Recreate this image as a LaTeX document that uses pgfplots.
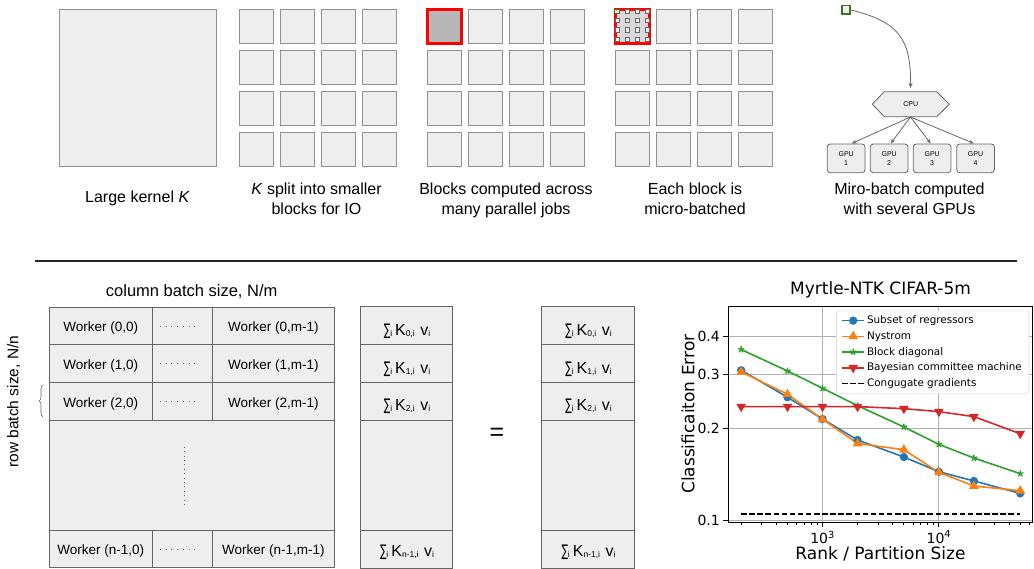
\documentclass[border=0pt]{standalone}
\usepackage{fontspec}
\setmainfont{Liberation Sans}
\newfontfamily\dejavu{DejaVu Sans}
\usepackage{graphicx}
\usepackage{pgfplots}
\usepackage{pgfplotstable}
\pgfplotsset{compat=1.18}
\usetikzlibrary{arrows.meta,decorations.pathreplacing}
\definecolor{bfill}{HTML}{EEEEEE}
\definecolor{bline}{HTML}{909090}
\definecolor{dline}{HTML}{666666}
\definecolor{selgray}{HTML}{B7B7B7}
\definecolor{microfill}{HTML}{D9D9D9}
\definecolor{gsq}{HTML}{38761D}
\definecolor{mplblue}{HTML}{1F77B4}
\definecolor{mplorange}{HTML}{FF7F0E}
\definecolor{mplgreen}{HTML}{2CA02C}
\definecolor{mplred}{HTML}{D62728}

\newcommand{\sbs}[1]{\raisebox{-0.8pt}{\fontsize{8.5}{9}\selectfont #1}}
\newcommand{\sumK}[1]{{\fontsize{16}{18}\selectfont\scalebox{0.6}[1]{\dejavu ∑}\sbs{i}\hspace{3pt}K\sbs{#1}\hspace{5.5pt}v\sbs{i}}}

\pgfplotstableread{
x      sor     nys     bd      bcm     cg
200    0.309   0.305   0.361   0.2349  0.1046
500    0.252   0.2578  0.3073  0.2349  0.1046
1000   0.214   0.2136  0.2697  0.2349  0.1046
2000   0.1827  0.178   0.2366  0.2349  0.1046
5000   0.1607  0.1698  0.2015  0.2313  0.1046
10000  0.1439  0.1432  0.1768  0.2262  0.1046
20000  0.1342  0.1292  0.1595  0.2178  0.1046
50000  0.1222  0.1247  0.1418  0.1916  0.1046
}\results

\begin{document}
\begin{tikzpicture}
\begin{scope}[x=1pt,y=-1pt]
\path[use as bounding box] (0,0) rectangle (1034,569);

% ---------- top row ----------
\draw[bline, fill=bfill, line width=1pt] (59,9.3) rectangle (216,166.7);
\node[anchor=base, font=\fontsize{16}{19}\selectfont] at (137.5,202.7) {Large kernel \textit{K}};

\foreach \gx in {239,427,615}{
  \foreach \i in {0,...,3}{
    \foreach \j in {0,...,3}{
      \draw[bline, fill=bfill, line width=1pt] ({\gx+41*\i},{9.3+41*\j}) rectangle ++(34,34);
    }
  }
}
% selected block (grid 3)
\draw[red, line width=3pt, fill=selgray] (427,9.3) rectangle ++(34,34);
% micro-batched block (grid 4)
\draw[red, line width=3pt, fill=microfill] (615,9.3) rectangle ++(34,34);
\foreach \i in {0,...,3}{
  \foreach \j in {0,...,3}{
    \draw[dline, fill=bfill, line width=0.8pt] ({617+10*\i-2.1},{11.3+9.3*\j-2.1}) rectangle ++(4.2,4.2);
  }
}
\draw[gsq, fill=bfill, line width=1.1pt] (614.9,9.2) rectangle ++(4.2,4.2);

\begin{scope}[every node/.style={anchor=base, font=\fontsize{16}{19}\selectfont}]
\node at (316.5,195) {\textit{K} split into smaller};
\node at (316.5,215) {blocks for IO};
\node at (506,195) {Blocks computed across};
\node at (506,215) {many parallel jobs};
\node at (695,195) {Each block is};
\node at (695,215) {micro-batched};
\node at (909.5,195) {Miro-batch computed};
\node at (909.5,215) {with several GPUs};
\end{scope}

% GPU diagram
\draw[gsq, fill=bfill, line width=1.5pt] (842,5.5) rectangle (850,14);
\draw[dline, line width=0.8pt, -{Stealth[length=5pt,width=4pt]}] (851,10) .. controls (900,22) and (911,40) .. (910.5,88);
\draw[dline, fill=bfill, line width=0.8pt] (872.3,104.2) -- (884.3,91.7) -- (936.7,91.7) -- (949.3,104.2) -- (936.7,116.7) -- (884.3,116.7) -- cycle;
\node[font=\fontsize{7}{8}\selectfont] at (910.7,104.2) {CPU};
\foreach \k/\gx/\tx in {1/827.3/851.7, 2/870.3/890.7, 3/913.3/930.7, 4/956.7/974}{
  \draw[dline, fill=bfill, line width=0.8pt, rounded corners=3pt] (\gx,144) rectangle ++(37.7,28.7);
  \node[font=\fontsize{7}{8}\selectfont] at ({\gx+18.85},154.3) {GPU};
  \node[font=\fontsize{7}{8}\selectfont] at ({\gx+18.85},163) {\k};
  \draw[dline, line width=0.8pt, -{Stealth[length=5pt,width=4pt]}] (910.5,117) -- (\tx,143.5);
}

% separator
\draw[black!85, line width=1.3pt] (35,261) -- (1017,261);

% ---------- bottom left: worker grid ----------
\node[anchor=base, font=\fontsize{16.5}{19}\selectfont] at (191.7,296.7) {column batch size, N/m};
\node[rotate=90, anchor=base, font=\fontsize{15.5}{19}\selectfont] at (18.3,401.7) {row batch size, N/n};
\draw[dline, line width=0.6pt, decorate, decoration={brace, amplitude=4pt}] (43,417) -- (43,385);

\draw[dline, fill=bfill, line width=1pt] (49,307.3) rectangle (334.3,567.7);
\foreach \yy in {345,382.7,420.7,530.7}{\draw[dline, line width=1pt] (49,\yy) -- (334.3,\yy);}
\foreach \xx in {152.3,212.3}{
  \draw[dline, line width=1pt] (\xx,307.3) -- (\xx,420.7);
  \draw[dline, line width=1pt] (\xx,530.7) -- (\xx,567.7);
}
\begin{scope}[every node/.style={anchor=base, font=\fontsize{13.5}{15}\selectfont}]
\node at (100.7,331.5) {Worker (0,0)};
\node at (273.3,331.5) {Worker (0,m-1)};
\node at (100.7,369.1) {Worker (1,0)};
\node at (273.3,369.1) {Worker (1,m-1)};
\node at (100.7,407.0) {Worker (2,0)};
\node at (273.3,407.0) {Worker (2,m-1)};
\node at (100.7,554.4) {Worker (n-1,0)};
\node at (273.3,554.4) {Worker (n-1,m-1)};
\end{scope}
\foreach \yy in {326.2,363.8,401.7,549.2}{
  \draw[dline, line width=0.9pt, dash pattern=on 0.8pt off 4.9pt] (160,\yy) -- (196,\yy);
}
\draw[dline, line width=0.9pt, dash pattern=on 0.8pt off 3.6pt] (184.3,446.7) -- (184.3,504);

% ---------- bottom middle: vectors ----------
\foreach \vx in {360,541.7}{
  \draw[dline, fill=bfill, line width=1pt] (\vx,306.7) rectangle ++(92.7,261.6);
  \foreach \yy in {344.3,382.3,420,530}{\draw[dline, line width=1pt] (\vx,\yy) -- ++(92.7,0);}
}
\begin{scope}[every node/.style={anchor=base, inner sep=0pt}]
\foreach \cx in {407,588.5}{
  \node at (\cx,336.0) {\sumK{0,i}};
  \node at (\cx,373.3) {\sumK{1,i}};
  \node at (\cx,410.7) {\sumK{2,i}};
  \node at (\cx,556.7) {\sumK{n-1,i}};
}
\end{scope}
\node[font=\fontsize{25}{28}\selectfont] at (496.9,434) {=};
\end{scope}

% ---------- chart ----------
\begin{axis}[
  at={(728.3pt,-522.3pt)}, anchor=south west,
  scale only axis, width=304.4pt, height=216.3pt,
  xmode=log, ymode=log,
  xmin=155, xmax=64000, ymin=0.0983, ymax=0.501,
  xtick={1000,10000}, xticklabels={10\textsuperscript{3},10\textsuperscript{4}},
  minor xtick={200,300,400,500,600,700,800,900,2000,3000,4000,5000,6000,7000,8000,9000,20000,30000,40000,50000,60000},
  ytick={0.1,0.2,0.3,0.4}, yticklabels={0.1,0.2,0.3,0.4},
  minor ytick={},
  tick pos=left, tick align=outside,
  major tick length=5pt, minor tick length=3pt,
  tick style={black, line width=0.8pt},
  grid=major, major grid style={black!30, line width=0.8pt},
  axis line style={black, line width=0.8pt},
  tick label style={font=\dejavu\fontsize{14}{16}\selectfont},
  title={Myrtle-NTK CIFAR-5m},
  title style={at={(axis description cs:0.5,1)}, anchor=base, yshift=5.3pt, font=\dejavu\fontsize{17}{20}\selectfont},
  xlabel={Rank / Partition Size},
  xlabel style={at={(axis description cs:0.5,0)}, anchor=base, yshift=-37.2pt, font=\dejavu\fontsize{17}{20}\selectfont},
  ylabel={Classificaiton Error},
  ylabel style={at={(axis description cs:0,0.5)}, anchor=base, yshift=34pt, font=\dejavu\fontsize{17}{20}\selectfont},
  legend cell align=left,
  legend style={at={(0.988,0.978)}, anchor=north east, draw=black!20, rounded corners=2pt,
    font=\dejavu\fontsize{10.4}{12}\selectfont, row sep=2.4pt, inner ysep=3pt, inner xsep=5pt},
  legend image code/.code={\draw[mark repeat=2,mark phase=2] plot coordinates {(0pt,0pt) (11pt,0pt) (22pt,0pt)};},
]
\addplot[mplblue, line width=1.6pt, mark=*, mark size=3.3pt, mark options={solid}] table[x=x,y=sor] {\results};
\addlegendentry{Subset of regressors}
\addplot[mplorange, line width=1.6pt, mark=triangle*, mark size=4pt, mark options={solid}] table[x=x,y=nys] {\results};
\addlegendentry{Nystrom}
\addplot[mplgreen, line width=1.6pt, mark=star, mark size=3.3pt, mark options={solid, line width=1.4pt}] table[x=x,y=bd] {\results};
\addlegendentry{Block diagonal}
\addplot[mplred, line width=1.6pt, mark=triangle*, mark size=4pt, mark options={solid, rotate=180}] table[x=x,y=bcm] {\results};
\addlegendentry{Bayesian committee machine}
\addplot[black, line width=1.6pt, dash pattern=on 5.5pt off 2.6pt, no marks] table[x=x,y=cg] {\results};
\addlegendentry{Congugate gradients}
\end{axis}
\end{tikzpicture}
\end{document}
